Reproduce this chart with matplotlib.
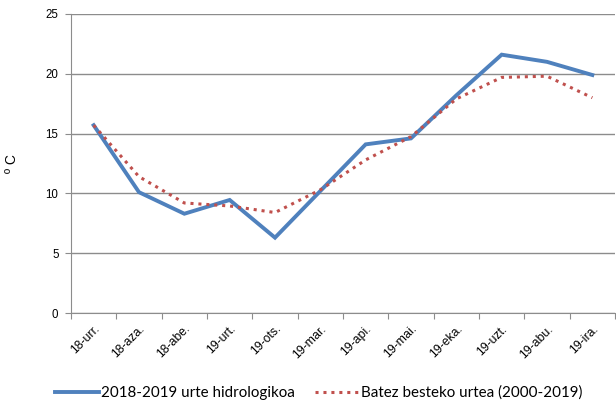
import matplotlib.pyplot as plt
import numpy as np

months = ["18-urr.", "18-aza.", "18-abe.", "19-urt.", "19-ots.", "19-mar.",
          "19-api.", "19-mai.", "19-eka.", "19-uzt.", "19-abu.", "19-ira."]
year_2018_2019 = [15.7, 10.1, 8.3, 9.45, 6.3, 10.2, 14.1, 14.6, 18.2, 21.6, 21.0, 19.9]
mean_2000_2019 = [15.7, 11.4, 9.2, 8.95, 8.4, 10.3, 12.8, 14.75, 17.9, 19.7, 19.8, 18.0]

plt.rcParams['font.family'] = ['Liberation Sans', 'DejaVu Sans']

fig = plt.figure(figsize=(6.16, 4.03), dpi=100)
ax = fig.add_axes([71 / 616, 1 - 313 / 403, 544 / 616, 299 / 403])

x = np.arange(len(months))
ax.plot(x, year_2018_2019, color='#4F81BD', linewidth=2.8,
        label="2018-2019 urte hidrologikoa", solid_joinstyle='miter')
ax.plot(x, mean_2000_2019, color='#C0504D', linewidth=2.2, linestyle=(0, (1, 1.6)),
        label="Batez besteko urtea (2000-2019)")

ax.set_xlim(-0.5, len(months) - 0.5)
ax.set_ylim(0, 25)
ax.set_yticks(range(0, 26, 5))
ax.yaxis.grid(True, color='#8c8c8c', linewidth=1)
ax.set_axisbelow(True)

# category boundaries get the tick marks, labels sit at centers
ax.set_xticks(np.arange(-0.5, len(months)), minor=False)
ax.set_xticklabels([])
ax.set_xticks(x, minor=True)
ax.set_xticklabels(months, minor=True, rotation=45, ha='right',
                   rotation_mode='anchor', fontsize=8.8)
ax.tick_params(axis='x', which='major', length=4, color='#8c8c8c')
ax.tick_params(axis='x', which='minor', length=0, pad=7)
ax.tick_params(axis='y', length=4, color='#8c8c8c', labelsize=8.3, pad=5)

for side in ['top', 'right']:
    ax.spines[side].set_visible(False)
for side in ['left', 'bottom']:
    ax.spines[side].set_color('#8c8c8c')

ax.set_ylabel("º C", fontsize=10)
ax.yaxis.set_label_coords(-0.096, 0.5)

fig.legend(loc='center', ncol=2, frameon=False,
           prop={'family': 'Lato', 'size': 10.9},
           bbox_to_anchor=(0.517, 1 - 393 / 403), handlelength=2.9,
           handletextpad=0.15, columnspacing=1.3)

fig.savefig("out.png", dpi=100)
